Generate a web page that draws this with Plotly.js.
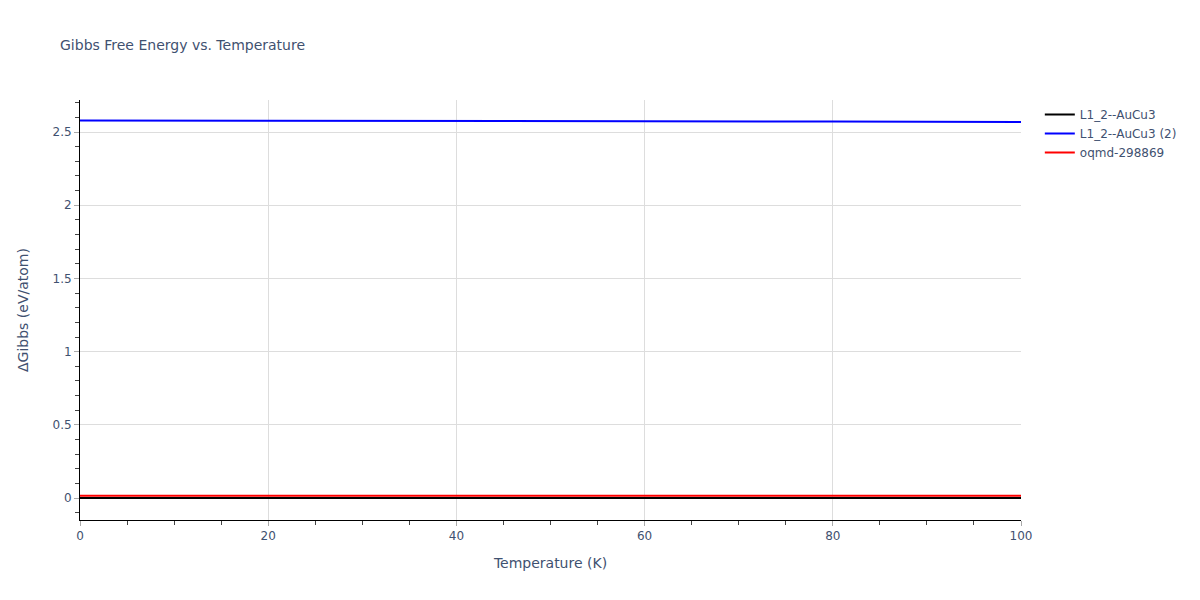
<!DOCTYPE html>
<html>
<head>
<meta charset="utf-8">
<script src="https://cdn.plot.ly/plotly-3.0.1.min.js"></script>
<style>html,body{margin:0;padding:0;}#chart{width:1200px;height:600px;}</style>
</head>
<body>
<div id="chart"></div>
<script>
const temperature = [0, 10, 20, 30, 40, 50, 60, 70, 80, 90, 100];
const seriesNames = ["L1_2--AuCu3", "L1_2--AuCu3 (2)", "oqmd-298869"];
const gibbsBlack = [0, 0, 0, 0, 0, 0, 0, 0, 0, 0, 0];
const gibbsBlue = [2.579, 2.5787, 2.5782, 2.5776, 2.5768, 2.5759, 2.5748, 2.5736, 2.5722, 2.5707, 2.569];
const gibbsRed = [0.016, 0.016, 0.016, 0.016, 0.016, 0.016, 0.016, 0.016, 0.016, 0.016, 0.016];
const colors = ["black", "blue", "red"];

const ys = [gibbsBlack, gibbsBlue, gibbsRed];
const traces = ys.map((y, i) => ({
  x: temperature, y: y, name: seriesNames[i], type: "scatter", mode: "lines",
  line: {color: colors[i], width: 2}
}));

const layout = {
  width: 1200, height: 600,
  paper_bgcolor: "white", plot_bgcolor: "white",
  font: {family: "DejaVu Sans, Verdana, sans-serif", size: 12, color: "#3f5170"},
  title: {text: "Gibbs Free Energy vs. Temperature", x: 0.05, xanchor: "left", y: 0.925, yanchor: "middle", font: {size: 14, color: "#3f5170"}},
  margin: {l: 80, r: 179, t: 100, b: 80},
  showlegend: true,
  legend: {x: 1.02, y: 1, xanchor: "left", yanchor: "top", font: {size: 12, color: "#3f5170"}},
  xaxis: {
    title: {text: "Temperature (K)", standoff: 15, font: {size: 14, color: "#3f5170"}},
    range: [0, 100], dtick: 20,
    showgrid: true, gridcolor: "#dddddd", zeroline: false,
    showline: true, linecolor: "black", linewidth: 1,
    ticks: "outside", ticklen: 5, tickcolor: "#aaaaaa",
    minor: {dtick: 5, ticks: "outside", ticklen: 4, tickcolor: "#444", showgrid: false}
  },
  yaxis: {
    title: {text: "ΔGibbs (eV/atom)", standoff: 20, font: {size: 14, color: "#3f5170"}},
    range: [-0.150, 2.719], dtick: 0.5,
    showgrid: true, gridcolor: "#dddddd", zeroline: false,
    showline: true, linecolor: "black", linewidth: 1,
    ticks: "outside", ticklen: 5, tickcolor: "#aaaaaa",
    minor: {dtick: 0.1, ticks: "outside", ticklen: 4, tickcolor: "#444", showgrid: false}
  }
};

Plotly.newPlot("chart", traces, layout, {displayModeBar: false});
</script>
</body>
</html>
